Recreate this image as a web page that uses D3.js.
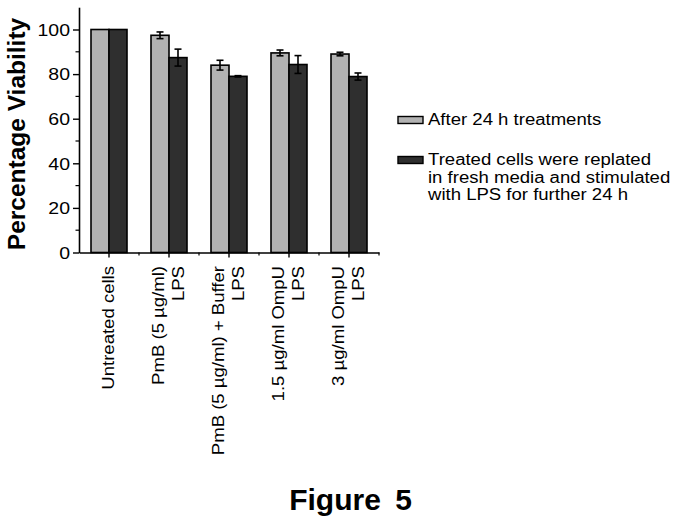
<!DOCTYPE html>
<html>
<head>
<meta charset="utf-8">
<script src="https://cdn.jsdelivr.net/npm/d3@7"></script>
<style>
  html, body { margin: 0; padding: 0; background: #fff; }
  svg { display: block; }
  text { font-family: "Liberation Sans", Arial, Helvetica, sans-serif; fill: #000; }
</style>
</head>
<body>
<svg id="chart" width="683" height="526"></svg>
<script>
// ---- data ----
const categories = [
  ["Untreated cells"],
  ["PmB (5 µg/ml)", "LPS"],
  ["PmB (5 µg/ml) + Buffer", "LPS"],
  ["1.5 µg/ml OmpU", "LPS"],
  ["3 µg/ml OmpU", "LPS"]
];
const seriesNames = [
  ["After 24 h treatments"],
  ["Treated cells were replated", "in fresh media and stimulated", "with LPS for further 24 h"]
];
const after24h      = [100, 97.4, 84.0, 89.5, 89.0];
const after24hErr   = [0, 1.5, 2.2, 1.3, 0.8];
const replated      = [100, 87.4, 79.0, 84.3, 78.9];
const replatedErr   = [0, 3.8, 0.3, 4.0, 1.6];
const yTicks = [0, 20, 40, 60, 80, 100];
const yMinorTicks = [10, 30, 50, 70, 90];

// ---- layout ----
const svg = d3.select("#chart");
const pLeft = 79, pRight = 379, pTop = 7.2, pBottom = 252.5;
const colors = ["#b2b2b2", "#2f2f2f"];
const sx = 1.16; // horizontal stretch of the original lettering

const catIdx = categories.map((d, i) => i);
const x = d3.scaleBand().domain(catIdx).range([pLeft, pRight]).paddingInner(0.4).paddingOuter(0.2);
const xs = d3.scaleBand().domain([0, 1]).range([0, x.bandwidth()]);
const y = d3.scaleLinear().domain([0, 110]).range([pBottom, pTop]);

const series = [
  { vals: after24h, errs: after24hErr },
  { vals: replated, errs: replatedErr }
];

// bars
series.forEach((s, si) => {
  const g = svg.append("g");
  g.selectAll("rect").data(s.vals).enter().append("rect")
    .attr("x", (d, i) => x(i) + xs(si))
    .attr("y", d => y(d))
    .attr("width", xs.bandwidth())
    .attr("height", d => y(0) - y(d))
    .attr("fill", colors[si])
    .attr("stroke", "#000")
    .attr("stroke-width", 1.6);
  // error bars
  const eg = svg.append("g").attr("stroke", "#000").attr("stroke-width", 1.6);
  s.vals.forEach((v, i) => {
    const e = s.errs[i];
    if (!e) return;
    const cx = x(i) + xs(si) + xs.bandwidth() / 2;
    eg.append("line").attr("x1", cx).attr("x2", cx).attr("y1", y(v + e)).attr("y2", y(v - e));
    eg.append("line").attr("x1", cx - 3.5).attr("x2", cx + 3.5).attr("y1", y(v + e)).attr("y2", y(v + e));
    eg.append("line").attr("x1", cx - 3.5).attr("x2", cx + 3.5).attr("y1", y(v - e)).attr("y2", y(v - e));
  });
});

// y axis
const yAxis = d3.axisLeft(y).tickValues(yTicks).tickSize(6).tickSizeOuter(0).tickFormat("");
const yg = svg.append("g").attr("transform", `translate(${pLeft},0)`).call(yAxis);
yg.select(".domain").attr("stroke-width", 1.6);
yg.selectAll(".tick line").attr("stroke-width", 1.4);
yg.selectAll(".tick text").remove();
yg.selectAll(".tick").append("text")
  .attr("transform", `translate(-9,0) scale(${sx},1)`)
  .attr("text-anchor", "end").attr("dy", "0.35em")
  .style("font-size", "16.8px")
  .text(d => d);
svg.append("g").selectAll("line").data(yMinorTicks).enter().append("line")
  .attr("x1", pLeft - 3.5).attr("x2", pLeft).attr("y1", d => y(d)).attr("y2", d => y(d))
  .attr("stroke", "#000").attr("stroke-width", 1.2);

// x axis
const xAxis = d3.axisBottom(x).tickSize(5).tickSizeOuter(0).tickFormat("");
const xg = svg.append("g").attr("transform", `translate(0,${pBottom})`).call(xAxis);
xg.select(".domain").attr("stroke-width", 1.6);
xg.selectAll(".tick line").attr("stroke-width", 1.4);
const bounds = catIdx.slice(1).map(i => x(i) - (x.step() - x.bandwidth()) / 2).concat([pRight]);
svg.append("g").selectAll("line").data(bounds).enter().append("line")
  .attr("x1", d => d).attr("x2", d => d).attr("y1", pBottom).attr("y2", pBottom + 3)
  .attr("stroke", "#000").attr("stroke-width", 1.2);

// x labels (rotated)
categories.forEach((lines, i) => {
  const cx = x(i) + x.bandwidth() / 2;
  const n = lines.length;
  lines.forEach((t, li) => {
    const off = (li - (n - 1) / 2) * 20 + 4.5;
    svg.append("text")
      .attr("transform", `translate(${cx + off},266) rotate(-90) scale(${sx},1)`)
      .attr("text-anchor", "end")
      .style("font-size", "16px")
      .text(t);
  });
});

// y title
svg.append("text")
  .attr("transform", `translate(24.5,134) rotate(-90)`)
  .attr("text-anchor", "middle")
  .style("font-size", "24.5px").style("font-weight", "bold")
  .text("Percentage Viability");

// legend
const legY = [120, 160];
const lineY0 = [125, 165];
seriesNames.forEach((lines, si) => {
  svg.append("rect")
    .attr("x", 398).attr("y", legY[si] - 3.5).attr("width", 25).attr("height", 7)
    .attr("fill", colors[si]).attr("stroke", "#000").attr("stroke-width", 1.4);
  lines.forEach((t, li) => {
    svg.append("text")
      .attr("transform", `translate(428,${lineY0[si] + li * 17.5}) scale(${sx},1)`)
      .style("font-size", "16px")
      .text(t);
  });
});

// figure caption
svg.append("text")
  .attr("x", 350.5).attr("y", 510)
  .attr("text-anchor", "middle")
  .style("font-size", "30px").style("font-weight", "bold").style("word-spacing", "6px")
  .text("Figure 5");
</script>
</body>
</html>
